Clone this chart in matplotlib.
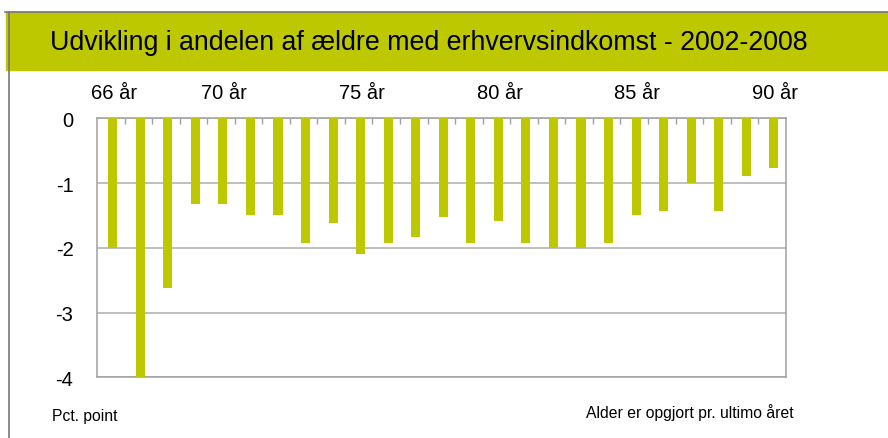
import matplotlib.pyplot as plt
import numpy as np
from matplotlib.patches import Rectangle
from matplotlib.lines import Line2D

plt.rcParams["font.family"] = ["Liberation Sans", "DejaVu Sans"]

# data: change in share (pct. point) by age, 2002-2008
alder = list(range(66, 91))
aendring = [-2.0, -4.0, -2.62, -1.33, -1.33, -1.5, -1.5, -1.92, -1.61, -2.09,
            -1.92, -1.83, -1.52, -1.92, -1.58, -1.92, -2.0, -2.0, -1.92, -1.5,
            -1.43, -1.0, -1.43, -0.89, -0.76]
label_alder = [66, 70, 75, 80, 85, 90]

groen = '#BEC800'
graa = '#A0A0A0'

fig = plt.figure(figsize=(8.88, 4.39), dpi=100)

# title band and frame
fig.patches.append(Rectangle((6 / 888, 1 - 71 / 439), 1, 58 / 439,
                             transform=fig.transFigure, color=groen, zorder=0))
fig.lines.append(Line2D([5 / 888, 1], [1 - 12.5 / 439] * 2,
                        transform=fig.transFigure, color='#777777', lw=1.2))
fig.lines.append(Line2D([8.5 / 888] * 2, [0, 1 - 12.5 / 439],
                        transform=fig.transFigure, color='#777777', lw=1.2))
fig.text(50 / 888, 1 - 43 / 439,
         'Udvikling i andelen af ældre med erhvervsindkomst - 2002-2008',
         fontsize=19.3, va='center', ha='left', color='black')

ax = fig.add_axes([97 / 888, 1 - 378.3 / 439, 688.7 / 888, 259 / 439])
x = np.arange(len(alder))
ax.bar(x + 0.07, aendring, width=0.33, color=groen, zorder=3)

ax.set_xlim(-0.5, len(alder) - 0.5)
ax.set_ylim(-4, 0)
ax.set_yticks([0, -1, -2, -3, -4])
ax.set_yticklabels(['0', '-1', '-2', '-3', '-4'])
ax.tick_params(axis='y', length=0, pad=17, labelsize=14.5)

# age labels on top, slightly right of the category centre as in the original
ax.xaxis.tick_top()
ax.set_xticks([alder.index(a) + 0.12 for a in label_alder])
ax.set_xticklabels([f'{a} år' for a in label_alder])
ax.tick_params(axis='x', which='major', length=0, pad=12, labelsize=14.5)
ax.set_xticks(np.arange(0.5, len(alder) - 1, 1), minor=True)
ax.tick_params(axis='x', which='minor', direction='in', length=4,
               color=graa, width=1, top=True, bottom=False)

ax.grid(axis='y', color='#B4B4B4', lw=1.2, zorder=0)
for s in ax.spines.values():
    s.set_color(graa)
    s.set_linewidth(1.1)

fig.text(52 / 888, 1 - 417 / 439, 'Pct. point', fontsize=11.3, va='center')
fig.text(794 / 888, 1 - 413 / 439, 'Alder er opgjort pr. ultimo året',
         fontsize=11.3, va='center', ha='right')

fig.savefig('out.png', dpi=100)
